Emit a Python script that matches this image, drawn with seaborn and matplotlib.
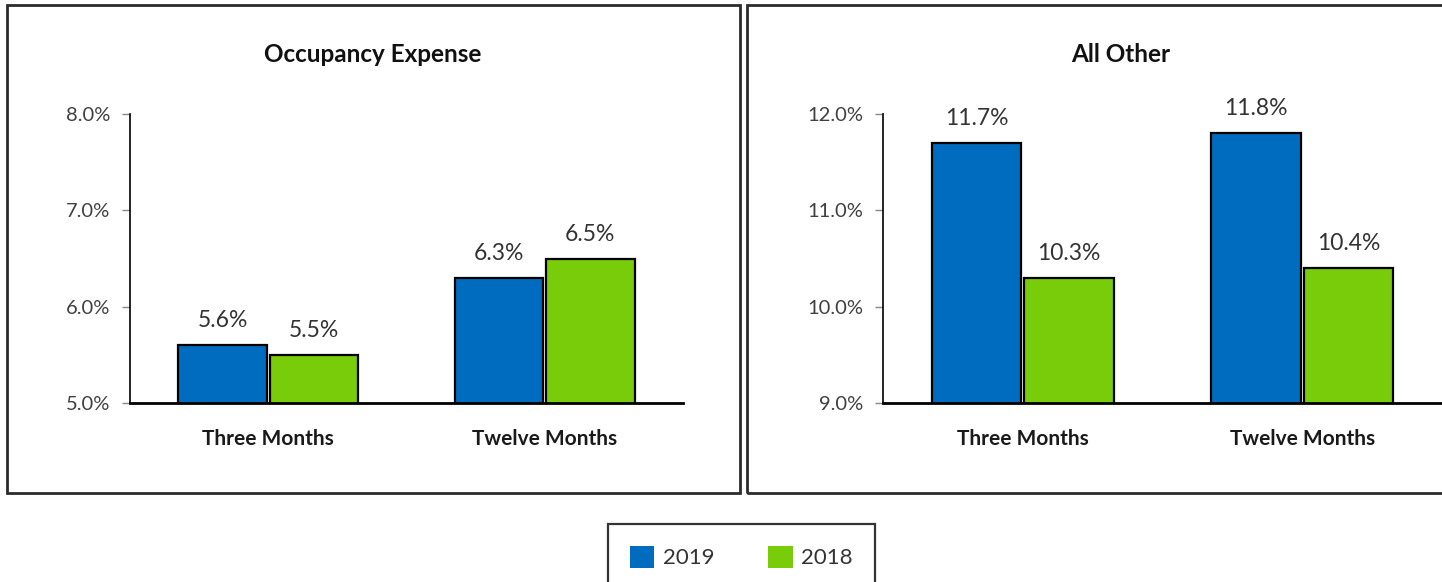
import matplotlib
matplotlib.use("Agg")
import matplotlib.pyplot as plt
from matplotlib.patches import Rectangle, Patch
from matplotlib.ticker import FuncFormatter
import pandas as pd
import seaborn as sns

# ---- data -------------------------------------------------------------
periods = ["Three Months", "Twelve Months"]
years = ["2019", "2018"]
occupancy_2019 = [5.6, 6.3]
occupancy_2018 = [5.5, 6.5]
other_2019 = [11.7, 11.8]
other_2018 = [10.3, 10.4]
occupancy_ticks = [5.0, 6.0, 7.0, 8.0]
other_ticks = [9.0, 10.0, 11.0, 12.0]
panel_titles = ["Occupancy Expense", "All Other"]

colors = {"2019": "#006CBF", "2018": "#78CC0A"}

sns.set_theme(style="white")
plt.rcParams["font.family"] = ["Lato", "DejaVu Sans"]


def long_frame(v2019, v2018):
    rows = []
    for p, a, b in zip(periods, v2019, v2018):
        rows.append({"period": p, "year": "2019", "value": a})
        rows.append({"period": p, "year": "2018", "value": b})
    return pd.DataFrame(rows)


W, H = 1442, 582
fig = plt.figure(figsize=(W / 100, H / 100), dpi=100)

# panel frames
for x0, x1 in [(7, 740), (747, 1460)]:
    fig.patches.append(Rectangle((x0 / W, 1 - 493 / H), (x1 - x0) / W, (493 - 5) / H,
                                 transform=fig.transFigure, fill=False,
                                 edgecolor="#2b2b2b", linewidth=2.0, zorder=0))

axes_specs = [
    (130, 683, long_frame(occupancy_2019, occupancy_2018), occupancy_ticks, panel_titles[0], 373),
    (883, 1442, long_frame(other_2019, other_2018), other_ticks, panel_titles[1], 1121),
]

for x0, x1, df, ticks, title, tx in axes_specs:
    ax = fig.add_axes([x0 / W, 1 - 403 / H, (x1 - x0) / W, (403 - 114) / H])
    sns.barplot(data=df, x="period", y="value", hue="year", hue_order=years,
                order=periods, palette=colors, width=0.66, gap=0.03,
                edgecolor="black", linewidth=1.6, saturation=1, ax=ax,
                legend=False)
    ax.set_xlim(-0.5, 1.5)
    ax.set_ylim(ticks[0], ticks[-1])
    ax.set_yticks(ticks)
    ax.yaxis.set_major_formatter(FuncFormatter(lambda v, _: f"{v:.1f}%"))
    ax.set_xlabel("")
    ax.set_ylabel("")
    for s in ["top", "right"]:
        ax.spines[s].set_visible(False)
    ax.spines["left"].set_color("black")
    ax.spines["left"].set_linewidth(1.2)
    ax.spines["bottom"].set_color("black")
    ax.spines["bottom"].set_linewidth(2.0)
    ax.tick_params(axis="y", length=6, width=1, color="#888888", direction="out",
                   left=True, labelsize=14.5, labelcolor="#404040", pad=8)
    ax.tick_params(axis="x", length=0, pad=19)
    for lbl in ax.get_xticklabels():
        lbl.set_fontweight("bold")
        lbl.set_fontsize(15)
        lbl.set_color("#1a1a1a")
    ax.set_facecolor("none")
    for cont in ax.containers:
        ax.bar_label(cont, fmt="%.1f%%", padding=10, fontsize=16.5, color="#333333")
    fig.text(tx / W, 1 - 54 / H, title, ha="center", va="center",
             fontsize=17.5, fontweight="bold", color="#111111")

handles = [Patch(facecolor=colors[y], edgecolor="none", label=y) for y in years]
leg = fig.legend(handles=handles, loc="upper center",
                 bbox_to_anchor=(741.5 / W, 1 - 524 / H), ncol=2,
                 frameon=True, fancybox=False, fontsize=16,
                 handlelength=1.1, handleheight=1.1, handletextpad=0.4,
                 columnspacing=2.4, borderpad=1.0, borderaxespad=0)
leg.get_frame().set_edgecolor("black")
leg.get_frame().set_linewidth(1.6)
for t in leg.get_texts():
    t.set_color("#333333")

fig.savefig("out.png", dpi=100, facecolor="white")
